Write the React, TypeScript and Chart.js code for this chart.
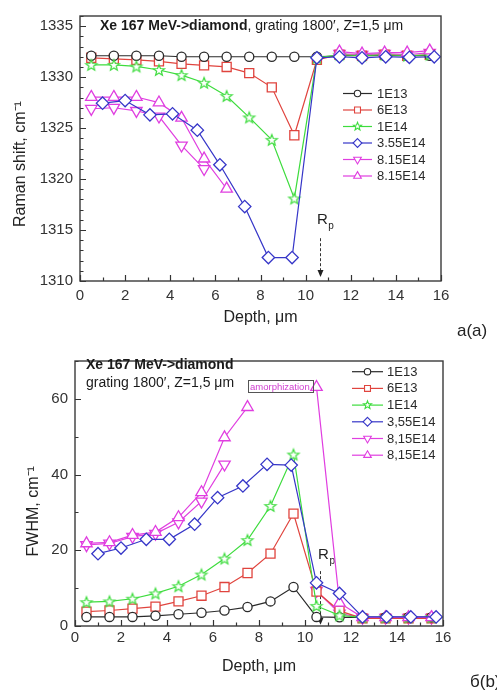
import React, { useEffect, useRef } from 'react';
import { Chart, registerables } from 'chart.js';

Chart.register(...registerables);

const FONT = "'Liberation Sans', Arial, Helvetica, sans-serif";

// ---------------- data ----------------
const DEPTH = [0.5, 1.5, 2.5, 3.5, 4.5, 5.5, 6.5, 7.5, 8.5, 9.5, 10.5, 11.5, 12.5, 13.5, 14.5, 15.5];
const DEPTH_355 = [1.0, 2.0, 3.1, 4.1, 5.2, 6.2, 7.3, 8.35, 9.4, 10.5, 11.5, 12.5, 13.55, 14.6, 15.7];

const LABELS_A = ['1E13', '6E13', '1E14', '3.55E14', '8.15E14', '8.15E14'];
const LABELS_B = ['1E13', '6E13', '1E14', '3,55E14', '8,15E14', '8,15E14'];

const RAMAN_1E13 = [1332.1, 1332.1, 1332.1, 1332.1, 1332.0, 1332.0, 1332.0, 1332.0, 1332.0, 1332.0, 1332.0, 1332.1, 1332.1, 1332.1, 1332.1, 1332.1];
const RAMAN_6E13 = [1331.9, 1331.8, 1331.7, 1331.55, 1331.3, 1331.15, 1331.0, 1330.4, 1329.0, 1324.3, 1331.7, 1332.2, 1332.1, 1332.2, 1332.1, 1332.2];
const RAMAN_1E14 = [1331.2, 1331.2, 1331.05, 1330.7, 1330.2, 1329.45, 1328.15, 1326.05, 1323.85, 1318.1, 1331.9, 1332.2, 1332.1, 1332.2, 1332.1, 1332.2];
const RAMAN_355E14 = [1327.45, 1327.7, 1326.3, 1326.4, 1324.8, 1321.4, 1317.3, 1312.3, 1312.3, 1331.9, 1332.0, 1331.9, 1332.0, 1331.95, 1332.0];
const RAMAN_815E14_A = [1326.9, 1327.0, 1326.7, 1326.15, 1323.3, 1321.0, null, null, null, null, null, 1332.3, 1332.2, 1332.3, 1332.2, 1332.4];
const RAMAN_815E14_B = [1328.05, 1328.05, 1328.05, 1327.5, 1326.0, 1322.0, 1319.05, null, null, null, null, 1332.5, 1332.3, 1332.4, 1332.4, 1332.6];

const FWHM_1E13 = [2.4, 2.4, 2.4, 2.7, 3.1, 3.5, 4.1, 5.0, 6.5, 10.3, 2.4, 2.3, 2.3, 2.3, 2.3, 2.3];
const FWHM_6E13 = [3.8, 4.1, 4.6, 5.1, 6.5, 8.0, 10.3, 14.0, 19.1, 29.7, 9.1, 4.0, 2.0, 2.0, 2.0, 2.0];
const FWHM_1E14 = [6.3, 6.5, 7.2, 8.6, 10.5, 13.6, 17.8, 22.7, 31.7, 45.3, 5.3, 2.8, 2.3, 2.3, 2.3, 2.3];
const FWHM_355E14 = [19.1, 20.6, 22.9, 22.9, 26.9, 33.9, 37.0, 42.7, 42.5, 11.4, 8.6, 2.4, 2.4, 2.4, 2.4];
const FWHM_815E14_A = [21.4, 21.8, 23.6, 24.4, 27.4, 32.9, 42.7, null, null, null, 9.3, 3.3, 2.2, 2.2, 2.2, 2.2];
const FWHM_815E14_B = [21.8, 22.1, 24.0, 24.8, 28.7, 35.3, 49.8, 57.8, null, null, 63.1, 6.1, 2.3, 2.3, 2.3, 2.3];

const RP_DEPTH = 10.65;

const COLORS = ['#2a2a2a', '#e0443e', '#3ddc3d', '#3636c8', '#e03ee0', '#e03ee0'];
const STYLES = ['circle', 'rect', 'star', 'rectRot', 'triangleDown', 'triangle'];

// ---------------- drawing helpers ----------------
function markerPath(ctx: CanvasRenderingContext2D, style: string, x: number, y: number, r: number) {
  ctx.beginPath();
  if (style === 'circle') {
    ctx.arc(x, y, r, 0, Math.PI * 2);
  } else if (style === 'rect') {
    const s = r * Math.SQRT1_2;
    ctx.rect(x - s, y - s, 2 * s, 2 * s);
  } else if (style === 'rectRot') {
    ctx.moveTo(x, y - r); ctx.lineTo(x + r, y); ctx.lineTo(x, y + r); ctx.lineTo(x - r, y); ctx.closePath();
  } else if (style === 'triangle' || style === 'triangleDown') {
    const d = style === 'triangle' ? 1 : -1;
    for (let i = 0; i < 3; i++) {
      const a = (i * 2 * Math.PI) / 3;
      const px = x + Math.sin(a) * r;
      const py = y - d * Math.cos(a) * r;
      if (i === 0) ctx.moveTo(px, py); else ctx.lineTo(px, py);
    }
    ctx.closePath();
  } else if (style === 'star') {
    const ri = r * 0.42;
    for (let i = 0; i < 10; i++) {
      const a = (i * Math.PI) / 5;
      const rr = i % 2 === 0 ? r : ri;
      const px = x + Math.sin(a) * rr;
      const py = y - Math.cos(a) * rr;
      if (i === 0) ctx.moveTo(px, py); else ctx.lineTo(px, py);
    }
    ctx.closePath();
  }
}

function drawMarker(ctx: CanvasRenderingContext2D, style: string, x: number, y: number, r: number, color: string, lw: number) {
  ctx.save();
  markerPath(ctx, style, x, y, r);
  ctx.fillStyle = '#ffffff';
  ctx.fill();
  ctx.strokeStyle = color;
  ctx.lineWidth = lw;
  ctx.stroke();
  ctx.restore();
}

function makeStarCanvas(color: string, r: number) {
  const c = document.createElement('canvas');
  const size = Math.ceil(r * 2 + 4);
  c.width = size; c.height = size;
  const ctx = c.getContext('2d')!;
  drawMarker(ctx, 'star', size / 2, size / 2 + 0.5, r, color, 1.2);
  return c;
}

function toPoints(xs: number[], ys: (number | null)[]) {
  return xs.map((x, i) => ({ x, y: ys[i] }));
}

function buildDatasets(labels: string[], series: { xs: number[]; ys: (number | null)[] }[], star: HTMLCanvasElement) {
  const orders = [3, 4, 2, 0, 5, 1];
  return series.map((s, i) => {
    const style = STYLES[i];
    let pointStyle: any = style;
    let rotation = 0;
    let radius = 6;
    if (style === 'circle') radius = 4.6;
    if (style === 'rect') radius = 6.4;
    if (style === 'rectRot') radius = 6.2;
    if (style === 'triangle') radius = 6.6;
    if (style === 'triangleDown') { pointStyle = 'triangle'; rotation = 180; radius = 6.6; }
    if (style === 'star') pointStyle = star;
    return {
      label: labels[i],
      data: toPoints(s.xs, s.ys),
      borderColor: COLORS[i],
      backgroundColor: '#ffffff',
      borderWidth: 1.2,
      pointStyle,
      pointRotation: rotation,
      pointRadius: radius,
      pointBorderWidth: 1.3,
      pointBorderColor: COLORS[i],
      pointBackgroundColor: '#ffffff',
      tension: 0,
      spanGaps: false,
      order: orders[i],
    };
  });
}

function ticksPlugin(xMinor: number, yMinor: number) {
  return {
    id: 'inwardTicks',
    afterDatasetsDraw(chart: any) {
      const { ctx, chartArea: a, scales } = chart;
      const x = scales.x, y = scales.y;
      const xMajors = x.ticks.map((t: any) => t.value);
      const yMajors = y.ticks.map((t: any) => t.value);
      const isMajor = (arr: number[], v: number) => arr.some((m) => Math.abs(m - v) < 1e-6);
      ctx.save();
      ctx.strokeStyle = '#333333';
      ctx.lineWidth = 1.2;
      ctx.beginPath();
      for (let v = x.min; v <= x.max + 1e-6; v += xMinor) {
        const px = Math.round(x.getPixelForValue(v)) + 0.5;
        const len = isMajor(xMajors, v) ? 6 : 3.5;
        ctx.moveTo(px, a.bottom); ctx.lineTo(px, a.bottom - len);
      }
      for (let v = y.min; v <= y.max + 1e-6; v += yMinor) {
        const py = Math.round(y.getPixelForValue(v)) + 0.5;
        const len = isMajor(yMajors, v) ? 6 : 3.5;
        ctx.moveTo(a.left, py); ctx.lineTo(a.left + len, py);
      }
      ctx.stroke();
      ctx.strokeStyle = '#3a3a3a';
      ctx.lineWidth = 1.4;
      ctx.strokeRect(a.left, a.top, a.right - a.left, a.bottom - a.top);
      ctx.restore();
    },
  };
}

function legendPlugin(labels: string[], x1: number, x2: number, textX: number, y0: number, dy: number, scale: number) {
  return {
    id: 'lineLegend',
    afterDraw(chart: any) {
      const ctx = chart.ctx;
      ctx.save();
      ctx.font = `13px ${FONT}`;
      ctx.textBaseline = 'middle';
      ctx.textAlign = 'left';
      labels.forEach((lab, i) => {
        const yy = y0 + i * dy;
        ctx.strokeStyle = COLORS[i];
        ctx.lineWidth = 1.2;
        ctx.beginPath();
        ctx.moveTo(x1, yy); ctx.lineTo(x2, yy);
        ctx.stroke();
        const st = STYLES[i];
        let r = 3.2 * scale;
        if (st === 'rect') r = 4.2 * scale;
        if (st === 'rectRot') r = 4.4 * scale;
        if (st === 'triangle' || st === 'triangleDown') r = 4.4 * scale;
        if (st === 'star') r = 4.2 * scale;
        drawMarker(ctx, st, (x1 + x2) / 2, yy, r, COLORS[i], 1.1);
        ctx.fillStyle = '#2a2a2a';
        ctx.fillText(lab, textX, yy + 0.5);
      });
      ctx.restore();
    },
  };
}

function rpPlugin(rLeftDepth: number, rBase: number, yFrom: number, yTo: number) {
  return {
    id: 'rpMark',
    beforeDatasetsDraw(chart: any) {
      const { ctx, scales } = chart;
      const px = Math.round(scales.x.getPixelForValue(RP_DEPTH)) + 0.5;
      const p1 = scales.y.getPixelForValue(yFrom);
      const p2 = scales.y.getPixelForValue(yTo);
      ctx.save();
      ctx.strokeStyle = '#333';
      ctx.lineWidth = 1;
      ctx.setLineDash([3, 2]);
      ctx.beginPath();
      ctx.moveTo(px, p1); ctx.lineTo(px, p2 - 5);
      ctx.stroke();
      ctx.setLineDash([]);
      ctx.fillStyle = '#222';
      ctx.beginPath();
      ctx.moveTo(px - 3, p2 - 7); ctx.lineTo(px + 3, p2 - 7); ctx.lineTo(px, p2); ctx.closePath();
      ctx.fill();
      const rx = scales.x.getPixelForValue(rLeftDepth);
      const ry = scales.y.getPixelForValue(rBase);
      ctx.font = `15px ${FONT}`;
      ctx.textBaseline = 'alphabetic';
      ctx.textAlign = 'left';
      ctx.fillText('R', rx, ry);
      const w = ctx.measureText('R').width;
      ctx.font = `10px ${FONT}`;
      ctx.fillText('p', rx + w + 0.5, ry + 5);
      ctx.restore();
    },
  };
}

function textPlugin(draw: (ctx: CanvasRenderingContext2D, chart: any) => void) {
  return {
    id: 'texts',
    afterDraw(chart: any) {
      const ctx = chart.ctx;
      ctx.save();
      draw(ctx, chart);
      ctx.restore();
    },
  };
}

function baseScales(opts: {
  yMin: number; yMax: number; yStep: number; yTitle: string; yTitlePad: number; yWidth: number;
  xTitlePad: number; xHeight: number; xTickPad: number;
}) {
  const tickFont = { family: FONT, size: 15 };
  const titleFont = { family: FONT, size: 16 };
  const plain = (v: any) => String(v);
  return {
    x: {
      type: 'linear',
      min: 0, max: 16,
      ticks: { stepSize: 2, includeBounds: false, padding: opts.xTickPad, font: tickFont, color: '#333', callback: plain },
      grid: { display: false, drawTicks: false },
      border: { display: false },
      title: { display: true, text: 'Depth, \u03bcm', font: titleFont, color: '#222', padding: { top: 0, bottom: opts.xTitlePad } },
      afterFit: (s: any) => { s.height = opts.xHeight; },
    },
    y: {
      type: 'linear',
      min: opts.yMin, max: opts.yMax,
      ticks: { stepSize: opts.yStep, includeBounds: false, padding: 7, font: tickFont, color: '#333', callback: plain },
      grid: { display: false, drawTicks: false },
      border: { display: false },
      title: { display: true, text: opts.yTitle, font: titleFont, color: '#222', padding: { top: opts.yTitlePad, bottom: 0 } },
      afterFit: (s: any) => { s.width = opts.yWidth; },
    },
  };
}

export default function App() {
  const topRef = useRef<HTMLCanvasElement>(null);
  const botRef = useRef<HTMLCanvasElement>(null);

  useEffect(() => {
    const star = makeStarCanvas(COLORS[2], 5.8);

    const topSeries = [
      { xs: DEPTH, ys: RAMAN_1E13 },
      { xs: DEPTH, ys: RAMAN_6E13 },
      { xs: DEPTH, ys: RAMAN_1E14 },
      { xs: DEPTH_355, ys: RAMAN_355E14 },
      { xs: DEPTH, ys: RAMAN_815E14_A },
      { xs: DEPTH, ys: RAMAN_815E14_B },
    ];
    const botSeries = [
      { xs: DEPTH, ys: FWHM_1E13 },
      { xs: DEPTH, ys: FWHM_6E13 },
      { xs: DEPTH, ys: FWHM_1E14 },
      { xs: DEPTH_355, ys: FWHM_355E14 },
      { xs: DEPTH, ys: FWHM_815E14_A },
      { xs: DEPTH, ys: FWHM_815E14_B },
    ];

    const top = new Chart(topRef.current!, {
      type: 'line',
      data: { datasets: buildDatasets(LABELS_A, topSeries, star) as any },
      options: {
        responsive: false,
        animation: false,
        devicePixelRatio: 1,
        layout: { padding: { left: 0, top: 13, right: 56, bottom: 0 } },
        plugins: { legend: { display: false }, tooltip: { enabled: false } },
        scales: baseScales({
          yMin: 1310, yMax: 1336, yStep: 5, yTitle: 'Raman shift, cm\u207b\u00b9       ', yTitlePad: 11, yWidth: 80,
          xTitlePad: 18, xHeight: 64, xTickPad: 6,
        }) as any,
      },
      plugins: [
        ticksPlugin(1, 1),
        rpPlugin(10.5, 1315.6, 1314.2, 1310.4),
        legendPlugin(LABELS_A, 343, 372, 377, 93.5, 16.5, 1),
        textPlugin((ctx) => {
          ctx.textBaseline = 'middle';
          ctx.textAlign = 'left';
          ctx.fillStyle = '#1a1a1a';
          ctx.font = `bold 14px ${FONT}`;
          const t1 = 'Xe 167 MeV->diamond';
          ctx.fillText(t1, 100, 26);
          const w = ctx.measureText(t1).width;
          ctx.font = `14px ${FONT}`;
          ctx.fillText(', grating 1800\u2032, Z=1,5 \u03bcm', 100 + w, 26);
          ctx.font = `17px ${FONT}`;
          ctx.fillStyle = '#222';
          ctx.textBaseline = 'alphabetic';
          ctx.fillText('a(a)', 457, 336);
        }),
      ],
    } as any);

    const bot = new Chart(botRef.current!, {
      type: 'line',
      data: { datasets: buildDatasets(LABELS_B, botSeries, star) as any },
      options: {
        responsive: false,
        animation: false,
        devicePixelRatio: 1,
        layout: { padding: { left: 0, top: 6, right: 54, bottom: 0 } },
        plugins: { legend: { display: false }, tooltip: { enabled: false } },
        scales: baseScales({
          yMin: 0, yMax: 70, yStep: 20, yTitle: 'FWHM, cm\u207b\u00b9        ', yTitlePad: 24, yWidth: 75,
          xTitlePad: 15, xHeight: 65, xTickPad: 3,
        }) as any,
      },
      plugins: [
        ticksPlugin(1, 10),
        rpPlugin(10.57, 17.6, 14.5, 0.3),
        legendPlugin(LABELS_B, 352, 383, 387, 26.7, 16.7, 1),
        textPlugin((ctx) => {
          ctx.textBaseline = 'middle';
          ctx.textAlign = 'left';
          ctx.fillStyle = '#1a1a1a';
          ctx.font = `bold 14px ${FONT}`;
          ctx.fillText('Xe 167 MeV->diamond', 86, 20);
          ctx.font = `14px ${FONT}`;
          ctx.fillText('grating 1800\u2032, Z=1,5 \u03bcm', 86, 38.5);
          // amorphization box
          ctx.strokeStyle = '#555';
          ctx.lineWidth = 1;
          ctx.strokeRect(248.5, 35.5, 65, 12);
          ctx.fillStyle = '#d040d0';
          ctx.font = `9.5px ${FONT}`;
          ctx.fillText('amorphization', 250, 42);
          ctx.font = `17px ${FONT}`;
          ctx.fillStyle = '#222';
          ctx.textBaseline = 'alphabetic';
          ctx.fillText('\u0431(b)', 470, 342);
        }),
      ],
    } as any);

    return () => {
      top.destroy();
      bot.destroy();
    };
  }, []);

  return (
    <div style={{ position: 'absolute', left: 0, top: 0, width: 497, height: 691, background: '#fff' }}>
      <canvas ref={topRef} width={497} height={345} style={{ position: 'absolute', left: 0, top: 0, width: 497, height: 345 }} />
      <canvas ref={botRef} width={497} height={346} style={{ position: 'absolute', left: 0, top: 345, width: 497, height: 346 }} />
    </div>
  );
}
